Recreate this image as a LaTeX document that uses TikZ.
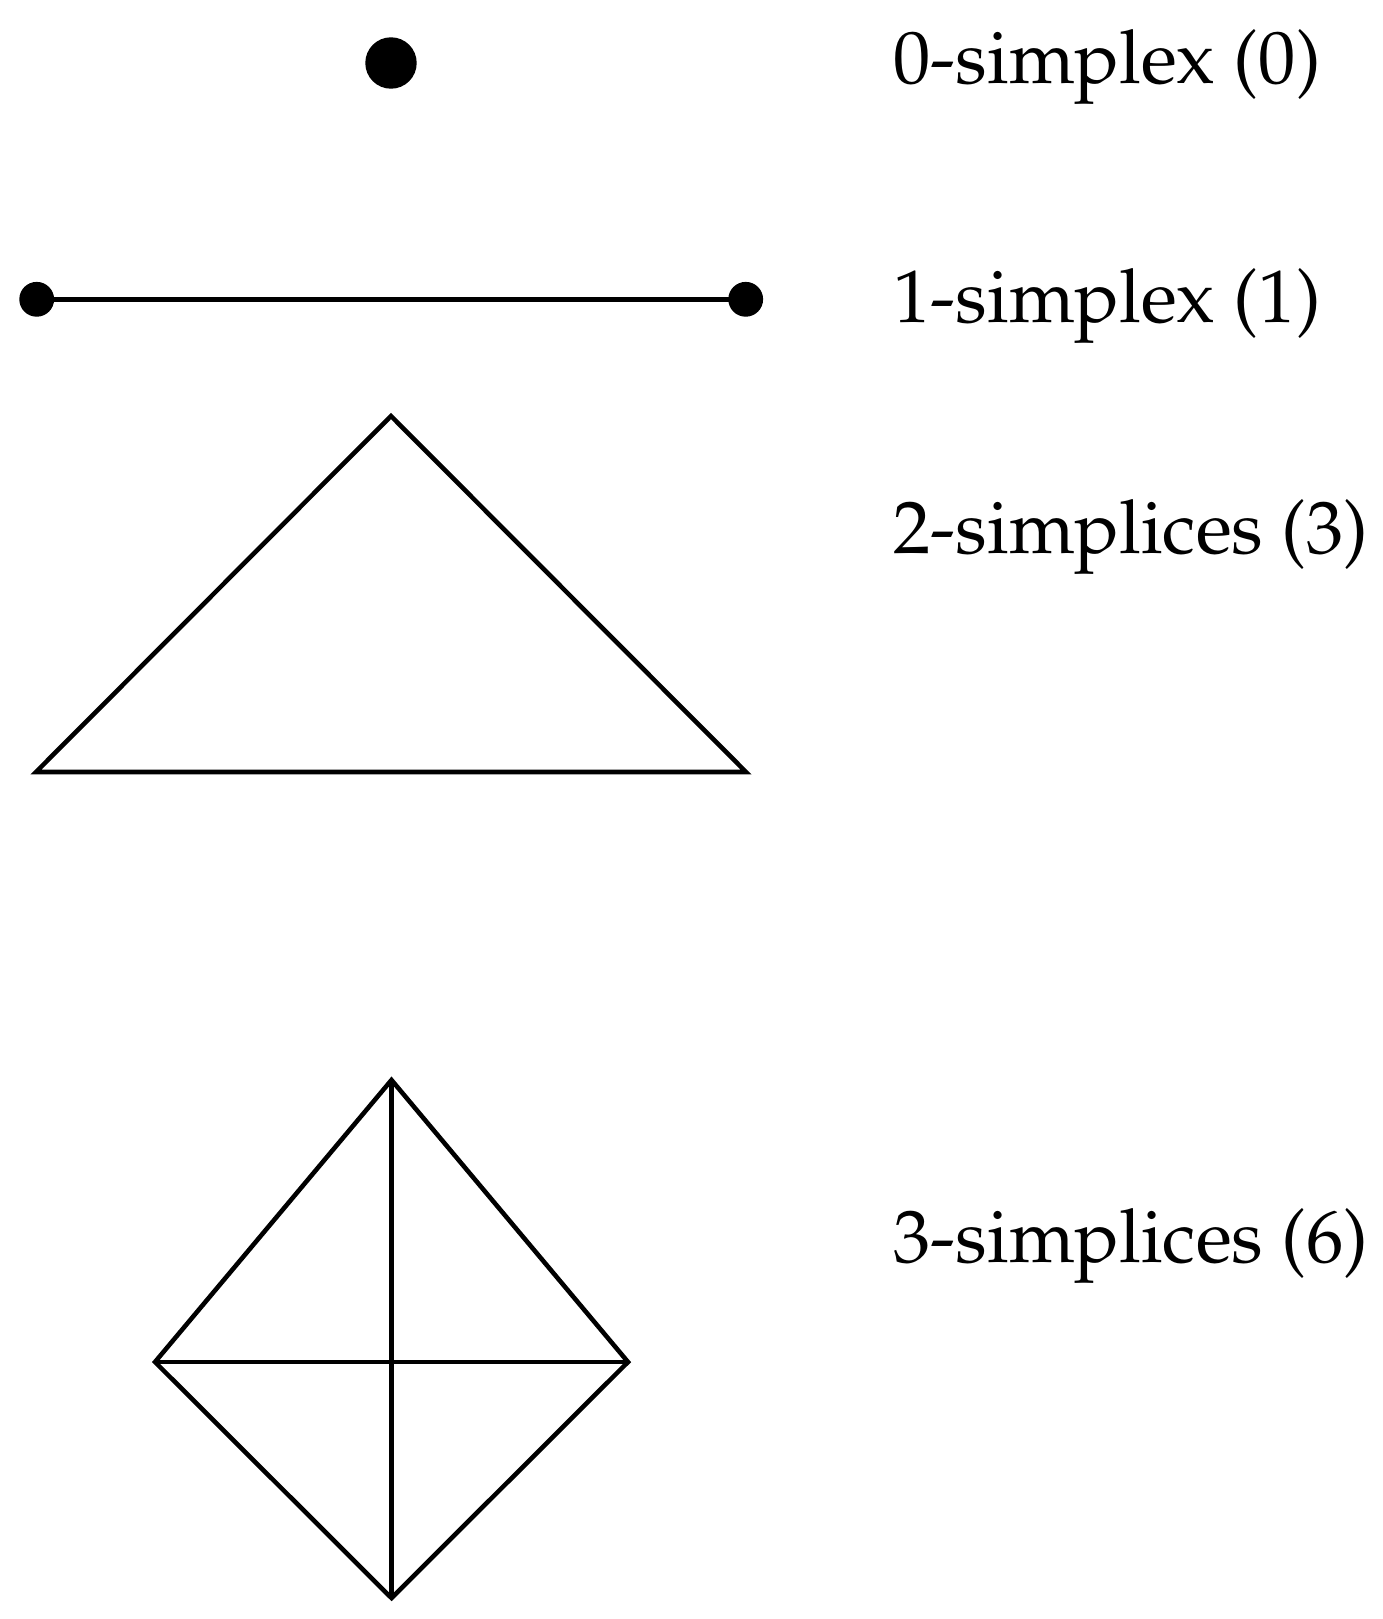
\documentclass[tikz,border=0pt]{standalone}
\usepackage[T1]{fontenc}
\usepackage{mathpazo}
\usepackage{amsmath,amssymb}
\usepackage{xcolor}

\tikzset{
  simp/.style={black, line width=1.3pt},
  lab/.style={anchor=base west, inner sep=0pt, font=\fontsize{21.2}{25}\selectfont},
}

\begin{document}
\begin{tikzpicture}
        \useasboundingbox (0,0) rectangle (13.83,-16.19);
        % 0-simplex
        \coordinate (p0) at (3.91,-0.63);
        \filldraw [black] (p0) circle (0.25);
        \node [lab] (lab0) at (8.93,-0.83) {0-simplex (0)};

        % 1-simplex
        \coordinate (a1) at (0.367,-2.993);
        \coordinate (b1) at (7.457,-2.993);
        \draw [simp] (a1) to (b1);
        \filldraw [black] (a1) circle (0.167);
        \filldraw [black] (b1) circle (0.167);
        \node [lab] (lab1) at (8.93,-3.22) {1-simplex (1)};

        % 2-simplices
        \coordinate (a2) at (0.36,-7.72);
        \coordinate (b2) at (7.46,-7.72);
        \coordinate (c2) at (3.91,-4.16);
        \draw [simp] (a2) -- (b2) -- (c2) -- cycle;
        \node [lab] (lab2) at (8.93,-5.53) {2-simplices (3)};

        % 3-simplices
        \coordinate (t3) at (3.915,-10.80);
        \coordinate (l3) at (1.55,-13.62);
        \coordinate (r3) at (6.28,-13.62);
        \coordinate (b3) at (3.915,-15.98);
        \draw [simp] (t3) -- (r3) -- (b3) -- (l3) -- cycle;
        \draw [simp] (l3) to (r3);
        \draw [simp] (t3) to (b3);
        \node [lab] (lab3) at (8.93,-12.62) {3-simplices (6)};
\end{tikzpicture}
\end{document}
